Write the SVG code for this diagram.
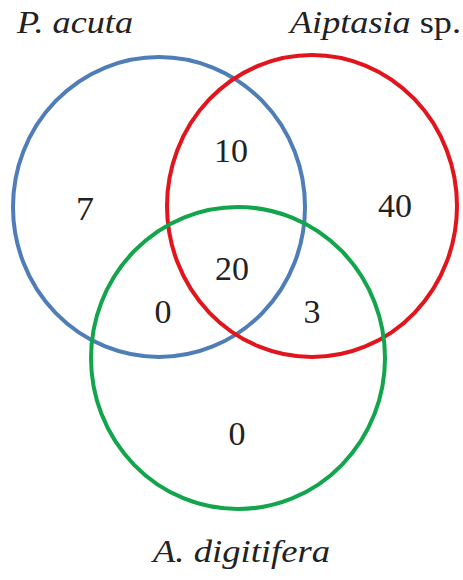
<svg xmlns="http://www.w3.org/2000/svg" width="463" height="580" viewBox="0 0 463 580">
<style>
.c{fill:none;stroke-width:4}
.lbl{font-family:'Liberation Serif','Times New Roman',serif;font-size:32px;fill:#222}
.num{font-family:'Liberation Serif','Times New Roman',serif;font-size:33px;fill:#222;text-anchor:middle}
</style>
<rect width="463" height="580" fill="#fff"/>
<g id="set-pacuta">
<ellipse class="c" cx="159" cy="207" rx="146" ry="150" stroke="#4f7db8"/>
</g>
<g id="set-aiptasia">
<ellipse class="c" cx="312" cy="206" rx="145" ry="151" stroke="#e2141c"/>
</g>
<g id="set-adigitifera">
<ellipse class="c" cx="238" cy="358" rx="147" ry="151" stroke="#12a54b"/>
</g>
<g id="labels">
<text class="lbl" x="17" y="33" font-style="italic" textLength="116" lengthAdjust="spacingAndGlyphs">P. acuta</text>
<text class="lbl" x="290" y="33" textLength="171" lengthAdjust="spacingAndGlyphs"><tspan font-style="italic">Aiptasia</tspan> sp.</text>
<text class="lbl" x="153" y="562" font-style="italic" textLength="177" lengthAdjust="spacingAndGlyphs">A. digitifera</text>
</g>
<g id="counts">
<text class="num" x="85" y="220" textLength="18" lengthAdjust="spacingAndGlyphs">7</text>
<text class="num" x="231" y="162" textLength="34" lengthAdjust="spacingAndGlyphs">10</text>
<text class="num" x="395" y="217" textLength="34" lengthAdjust="spacingAndGlyphs">40</text>
<text class="num" x="232" y="280" textLength="34" lengthAdjust="spacingAndGlyphs">20</text>
<text class="num" x="163" y="323" textLength="17" lengthAdjust="spacingAndGlyphs">0</text>
<text class="num" x="312" y="323" textLength="17" lengthAdjust="spacingAndGlyphs">3</text>
<text class="num" x="237" y="445" textLength="17" lengthAdjust="spacingAndGlyphs">0</text>
</g>
</svg>
